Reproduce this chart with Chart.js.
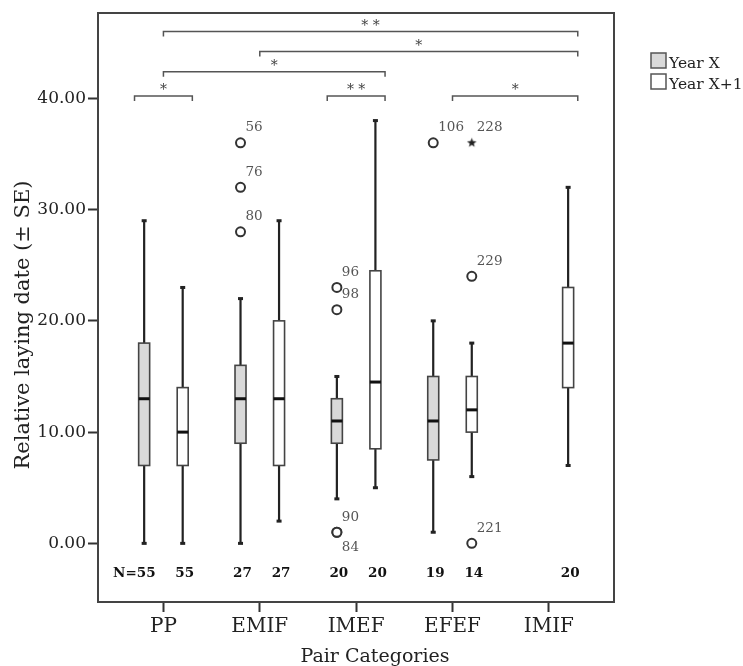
<!DOCTYPE html>
<html>
<head>
<meta charset="utf-8">
<title>Relative laying date by pair category</title>
<script src="https://cdn.jsdelivr.net/npm/chart.js@4/dist/chart.umd.min.js"></script>
<style>
	html, body { margin: 0; padding: 0; background: #fff; }
	#wrap { width: 743px; height: 666px; }
</style>
</head>
<body>
<div id="wrap"><canvas id="laying-chart" width="743" height="666"></canvas></div>
<script>
var categories = ['PP', 'EMIF', 'IMEF', 'EFEF', 'IMIF'];
var seriesNames = ['Year X', 'Year X+1'];
var yTicks = [0, 10, 20, 30, 40];

// five-number summaries per category, null where the group is missing
var yearXMin    = [0, 0, 4, 1, null];
var yearXQ1     = [7, 9, 9, 7.5, null];
var yearXMedian = [13, 13, 11, 11, null];
var yearXQ3     = [18, 16, 13, 15, null];
var yearXMax    = [29, 22, 15, 20, null];
var yearXN      = [55, 27, 20, 19, null];

var yearX1Min    = [0, 2, 5, 6, 7];
var yearX1Q1     = [7, 7, 8.5, 10, 14];
var yearX1Median = [10, 13, 14.5, 12, 18];
var yearX1Q3     = [14, 20, 24.5, 15, 23];
var yearX1Max    = [23, 29, 38, 18, 32];
var yearX1N      = [55, 27, 20, 14, 20];

// outliers: category, series (0 = Year X, 1 = Year X+1), value, case number
var outlierCategory = ['EMIF', 'EMIF', 'EMIF', 'IMEF', 'IMEF', 'IMEF', 'IMEF', 'EFEF', 'EFEF', 'EFEF', 'EFEF'];
var outlierSeries   = [0, 0, 0, 0, 0, 0, 0, 0, 1, 1, 1];
var outlierValues   = [36, 32, 28, 23, 21, 1, 1, 36, 36, 24, 0];
var outlierIds      = ['56', '76', '80', '96', '98', '90', '84', '106', '228', '229', '221'];
var outlierExtreme  = [false, false, false, false, false, false, false, false, true, false, false];

// significance brackets (x in category units)
var bracketFrom  = [-0.3, 1.7, 3, 0, 1, 0];
var bracketTo    = [0.3, 2.3, 4.3, 2.3, 4.3, 4.3];
var bracketLevel = [40.2, 40.2, 40.2, 42.4, 44.2, 46];
var bracketMarks = ['*', '**', '*', '*', '*', '**'];

(function() {
	'use strict';

	var GROUP_OFFSET = 0.2;
	var BOX_HALF = 5.5;
	var SERIF = '"DejaVu Serif", serif';
	var fills = ['#d9d9d9', '#ffffff'];

	var summaries = [
		{ min: yearXMin, q1: yearXQ1, med: yearXMedian, q3: yearXQ3, max: yearXMax, n: yearXN },
		{ min: yearX1Min, q1: yearX1Q1, med: yearX1Median, q3: yearX1Q3, max: yearX1Max, n: yearX1N }
	];

	function groupX(catIndex, series) {
		return catIndex + (series ? GROUP_OFFSET : -GROUP_OFFSET);
	}

	// filled five point star for the extreme case
	var star = document.createElement('canvas');
	star.width = 11;
	star.height = 11;
	(function() {
		var c = star.getContext('2d');
		c.beginPath();
		for (var i = 0; i < 10; i++) {
			var r = i % 2 ? 2.1 : 5;
			var a = -Math.PI / 2 + i * Math.PI / 5;
			c.lineTo(5.5 + r * Math.cos(a), 5.5 + r * Math.sin(a));
		}
		c.closePath();
		c.fillStyle = '#222';
		c.fill();
	})();

	var outlierPoints = outlierValues.map(function(v, k) {
		return { x: groupX(categories.indexOf(outlierCategory[k]), outlierSeries[k]), y: v };
	});

	var boxPlugin = {
		id: 'boxplots',
		beforeDatasetsDraw: function(chart) {
			var ctx = chart.ctx;
			var xs = chart.scales.x, ys = chart.scales.y;
			var area = chart.chartArea;

			ctx.save();
			ctx.strokeStyle = '#444';
			ctx.lineWidth = 2;
			ctx.strokeRect(area.left, area.top, area.right - area.left, area.bottom - area.top);

			summaries.forEach(function(s, si) {
				categories.forEach(function(cat, i) {
					if (s.min[i] === null) {
						return;
					}
					var cx = xs.getPixelForValue(groupX(i, si));
					var yMin = ys.getPixelForValue(s.min[i]);
					var yQ1 = ys.getPixelForValue(s.q1[i]);
					var yMed = ys.getPixelForValue(s.med[i]);
					var yQ3 = ys.getPixelForValue(s.q3[i]);
					var yMax = ys.getPixelForValue(s.max[i]);

					// whiskers + caps
					ctx.strokeStyle = '#222';
					ctx.lineWidth = 2.2;
					ctx.beginPath();
					ctx.moveTo(cx, yMin); ctx.lineTo(cx, yQ1);
					ctx.moveTo(cx, yQ3); ctx.lineTo(cx, yMax);
					ctx.stroke();
					ctx.fillStyle = '#222';
					ctx.fillRect(cx - 2.5, yMax - 1.5, 5, 3);
					ctx.fillRect(cx - 2.5, yMin - 1.5, 5, 3);

					// box
					ctx.fillStyle = fills[si];
					ctx.fillRect(cx - BOX_HALF, yQ3, BOX_HALF * 2, yQ1 - yQ3);
					ctx.strokeStyle = '#444';
					ctx.lineWidth = 1.6;
					ctx.strokeRect(cx - BOX_HALF, yQ3, BOX_HALF * 2, yQ1 - yQ3);

					// median
					ctx.strokeStyle = '#111';
					ctx.lineWidth = 3;
					ctx.beginPath();
					ctx.moveTo(cx - BOX_HALF, yMed);
					ctx.lineTo(cx + BOX_HALF, yMed);
					ctx.stroke();
				});
			});

			// significance brackets
			ctx.strokeStyle = '#555';
			ctx.lineWidth = 1.5;
			ctx.fillStyle = '#444';
			ctx.font = '14px ' + SERIF;
			ctx.textAlign = 'center';
			ctx.textBaseline = 'alphabetic';
			bracketLevel.forEach(function(level, b) {
				var x1 = xs.getPixelForValue(bracketFrom[b]);
				var x2 = xs.getPixelForValue(bracketTo[b]);
				var yy = ys.getPixelForValue(level);
				ctx.beginPath();
				ctx.moveTo(x1, yy + 5);
				ctx.lineTo(x1, yy);
				ctx.lineTo(x2, yy);
				ctx.lineTo(x2, yy + 5);
				ctx.stroke();
				ctx.fillText(bracketMarks[b].split('').join(' '), (x1 + x2) / 2, yy - 2);
			});
			ctx.restore();
		},
		afterDatasetsDraw: function(chart) {
			var ctx = chart.ctx;
			var xs = chart.scales.x, ys = chart.scales.y;
			var area = chart.chartArea;
			var used = {};

			ctx.save();
			// case numbers next to outliers
			ctx.font = '13.5px ' + SERIF;
			ctx.fillStyle = '#555';
			ctx.textAlign = 'left';
			ctx.textBaseline = 'middle';
			outlierPoints.forEach(function(p, k) {
				var px = xs.getPixelForValue(p.x);
				var py = ys.getPixelForValue(p.y);
				var key = p.x + ':' + p.y;
				var dy = used[key] ? 15 : -15;
				used[key] = true;
				ctx.fillText(outlierIds[k], px + 5, py + dy);
			});

			// group sizes
			ctx.font = 'bold 13.5px ' + SERIF;
			ctx.fillStyle = '#111';
			var nY = area.bottom - 29;
			summaries.forEach(function(s, si) {
				categories.forEach(function(cat, i) {
					if (s.n[i] === null) {
						return;
					}
					var cx = xs.getPixelForValue(groupX(i, si)) + 2;
					var txt = String(s.n[i]);
					ctx.textAlign = 'center';
					ctx.fillText(txt, cx, nY);
					if (si === 0 && i === 0) {
						ctx.textAlign = 'right';
						ctx.fillText('N=', cx - ctx.measureText(txt).width / 2, nY);
					}
				});
			});
			ctx.restore();
		},
		afterDraw: function(chart) {
			var ctx = chart.ctx;
			var area = chart.chartArea;
			ctx.save();

			// axis titles
			ctx.fillStyle = '#222';
			ctx.textAlign = 'center';
			ctx.textBaseline = 'alphabetic';
			ctx.font = '19px ' + SERIF;
			ctx.fillText('Pair Categories', 375, 662);

			ctx.translate(29, 325);
			ctx.rotate(-Math.PI / 2);
			ctx.font = '21px ' + SERIF;
			ctx.fillText('Relative laying date (\u00b1 SE)', 0, 0);
			ctx.setTransform(1, 0, 0, 1, 0, 0);

			// legend
			ctx.font = '15.5px ' + SERIF;
			ctx.textAlign = 'left';
			seriesNames.forEach(function(name, si) {
				var bx = area.right + 37;
				var by = 53 + si * 21;
				ctx.fillStyle = fills[si];
				ctx.fillRect(bx, by, 15, 15);
				ctx.strokeStyle = '#555';
				ctx.lineWidth = 1.5;
				ctx.strokeRect(bx, by, 15, 15);
				ctx.fillStyle = '#222';
				ctx.fillText(name, bx + 18, by + 15);
			});
			ctx.restore();
		}
	};

	new Chart(document.getElementById('laying-chart'), {
		type: 'scatter',
		data: {
			datasets: [{
				label: 'Outliers',
				data: outlierPoints,
				pointStyle: function(c) {
					return outlierExtreme[c.dataIndex] ? star : 'circle';
				},
				pointRadius: 4.5,
				pointHoverRadius: 4.5,
				borderWidth: 2,
				borderColor: '#333',
				backgroundColor: '#fff'
			}]
		},
		options: {
			responsive: false,
			animation: false,
			devicePixelRatio: 1,
			layout: { padding: { top: 13, right: 129, left: 0, bottom: 0 } },
			plugins: {
				legend: { display: false },
				tooltip: { enabled: false }
			},
			scales: {
				x: {
					type: 'linear',
					min: -0.679,
					max: 4.676,
					afterBuildTicks: function(scale) {
						scale.ticks = categories.map(function(c, i) { return { value: i }; });
					},
					afterFit: function(scale) {
						scale.height = 64;
					},
					border: { display: false },
					grid: {
						drawOnChartArea: false,
						drawTicks: true,
						tickLength: 10,
						tickWidth: 2,
						tickColor: '#333'
					},
					ticks: {
						autoSkip: false,
						maxRotation: 0,
						padding: 3,
						color: '#222',
						font: { family: SERIF, size: 20 },
						callback: function(v) { return categories[v]; }
					}
				},
				y: {
					type: 'linear',
					min: -5.27,
					max: 47.67,
					afterBuildTicks: function(scale) {
						scale.ticks = yTicks.map(function(v) { return { value: v }; });
					},
					afterFit: function(scale) {
						scale.width = 98;
					},
					border: { display: false },
					grid: {
						drawOnChartArea: false,
						drawTicks: true,
						tickLength: 10,
						tickWidth: 2,
						tickColor: '#333'
					},
					ticks: {
						padding: 2,
						color: '#222',
						font: { family: SERIF, size: 17 },
						callback: function(v) { return v.toFixed(2); }
					}
				}
			}
		},
		plugins: [boxPlugin]
	});
})();
</script>
</body>
</html>
